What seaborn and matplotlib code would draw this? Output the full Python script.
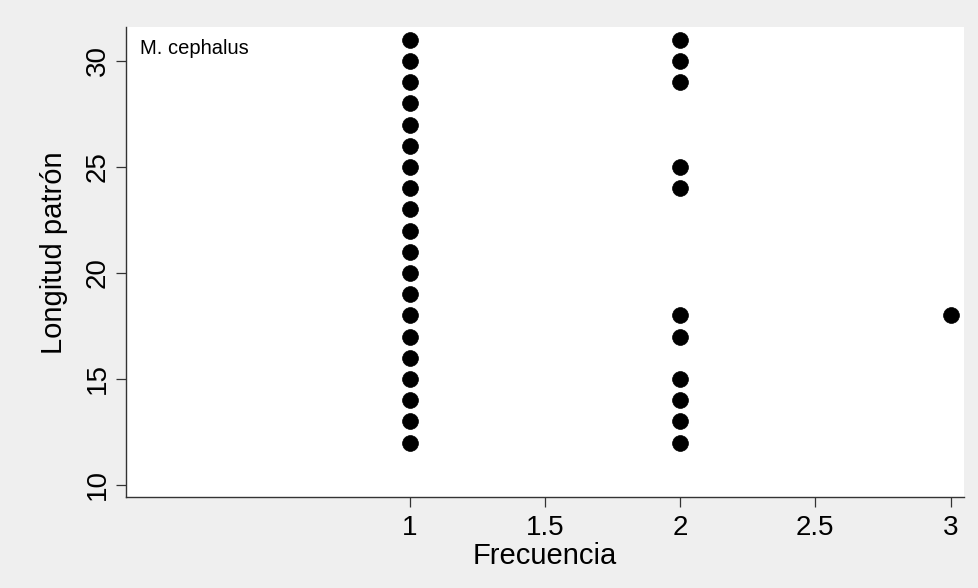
import matplotlib
matplotlib.use("Agg")
import matplotlib.pyplot as plt
import seaborn as sns
import pandas as pd

frecuencia = [1]*20 + [2]*11 + [3]
longitud = list(range(12, 32)) + [12, 13, 14, 15, 17, 18, 24, 25, 29, 30, 31] + [18]
xticks = [1, 1.5, 2, 2.5, 3]
xticklabels = ["1", "1.5", "2", "2.5", "3"]
yticks = [10, 15, 20, 25, 30]

df = pd.DataFrame({"Frecuencia": frecuencia, "Longitud patrón": longitud})

sns.set_style("ticks")
plt.rcParams['font.family'] = ['Liberation Sans', 'DejaVu Sans']

bg = "#efefef"
fig = plt.figure(figsize=(9.79, 5.88), dpi=100, facecolor=bg)
ax = fig.add_axes([0.1287, 0.1548, 0.9847 - 0.1287, 0.954 - 0.1548])
ax.set_facecolor("white")

sns.scatterplot(data=df, x="Frecuencia", y="Longitud patrón", ax=ax,
                color="black", s=130, edgecolor="black", linewidth=0.5, legend=False)

ax.set_xlim(-0.05, 3.05)
ax.set_ylim(9.43, 31.6)
ax.set_xticks(xticks)
ax.set_xticklabels(xticklabels)
ax.set_yticks(yticks)
ax.set_yticklabels([str(v) for v in yticks], rotation=90, va="center")

for s in ["top", "right"]:
    ax.spines[s].set_visible(False)
for s in ["left", "bottom"]:
    ax.spines[s].set_color("#333333")
    ax.spines[s].set_linewidth(1.0)

ax.tick_params(axis="both", direction="out", length=7, width=0.9, color="#333333",
               labelsize=20, labelcolor="black")
ax.tick_params(axis="x", pad=6)
ax.tick_params(axis="y", pad=4)
ax.set_xlabel("Frecuencia", fontsize=21, labelpad=0.5, color="black")
ax.set_ylabel("Longitud patrón", fontsize=21, color="black")
ax.yaxis.set_label_coords(-0.069, 0.519)

ax.text(0.0165, 0.975, "M. cephalus", transform=ax.transAxes, fontsize=14.5,
        ha="left", va="top", color="black")

fig.savefig("out.png", dpi=100, facecolor=bg)
